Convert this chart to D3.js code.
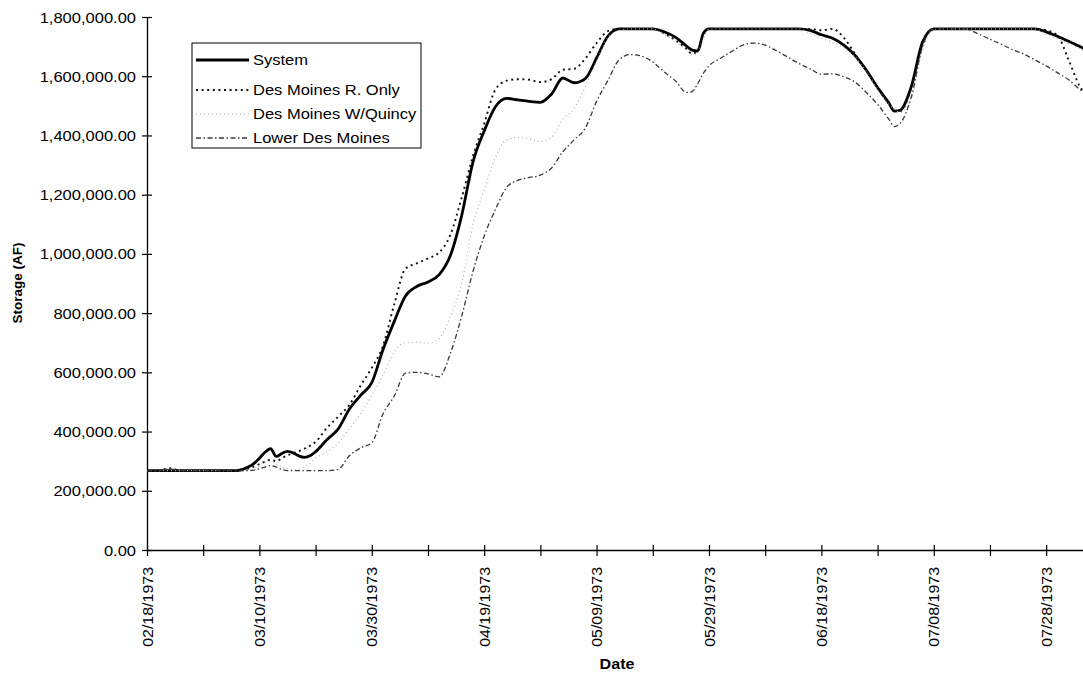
<!DOCTYPE html>
<html><head><meta charset="utf-8">
<script src="https://cdn.jsdelivr.net/npm/d3@7"></script>
<style>
body{margin:0;background:#fff;}
svg{display:block;}
text{font-family:"Liberation Sans", Arial, Helvetica, sans-serif;fill:#000;}
</style>
</head><body>
<svg id="chart" width="1083" height="681"></svg>
<script>
const dates = [
"1973-02-18","1973-02-20","1973-02-22","1973-02-24","1973-02-26","1973-02-28","1973-03-02","1973-03-04","1973-03-06",
"1973-03-07","1973-03-08","1973-03-09","1973-03-10","1973-03-11","1973-03-12","1973-03-13","1973-03-14","1973-03-15","1973-03-16","1973-03-17","1973-03-18","1973-03-19","1973-03-20",
"1973-03-22","1973-03-24","1973-03-26","1973-03-28","1973-03-30","1973-04-01","1973-04-03","1973-04-05","1973-04-07","1973-04-09","1973-04-11","1973-04-13","1973-04-15","1973-04-17","1973-04-19","1973-04-21","1973-04-23","1973-04-25","1973-04-27","1973-04-29","1973-05-01","1973-05-03","1973-05-05","1973-05-07","1973-05-09","1973-05-11","1973-05-13","1973-05-15","1973-05-17","1973-05-19","1973-05-21","1973-05-23","1973-05-25",
"1973-05-26","1973-05-27","1973-05-28",
"1973-05-29","1973-05-31","1973-06-02","1973-06-04","1973-06-06","1973-06-08","1973-06-10","1973-06-12","1973-06-14","1973-06-16","1973-06-18","1973-06-20","1973-06-22","1973-06-24","1973-06-26","1973-06-28","1973-06-30",
"1973-07-01","1973-07-02",
"1973-07-04","1973-07-06","1973-07-08","1973-07-10","1973-07-12","1973-07-14","1973-07-16","1973-07-18","1973-07-20","1973-07-22","1973-07-24","1973-07-26","1973-07-28","1973-07-30","1973-08-01","1973-08-03","1973-08-05"
];

const systemValues = [
268000,268000,268000,268000,268000,268000,268000,268000,268000,
272000,280000,292000,310000,330000,342000,316000,326000,333000,328000,318000,313000,318000,332000,
372000,408000,475000,522000,565000,677000,772000,858000,890000,905000,930000,995000,1130000,1310000,1415000,1497000,1525000,1520000,1515000,1512000,1540000,1594000,1578000,1592000,1662000,1735000,1760000,1760000,1760000,1760000,1750000,1732000,1702000,
1688000,1685000,1745000,
1760000,1760000,1760000,1760000,1760000,1760000,1760000,1760000,1760000,1755000,1740000,1728000,1705000,1670000,1620000,1562000,1510000,
1482000,1485000,
1565000,1715000,1760000,1760000,1760000,1760000,1760000,1760000,1760000,1760000,1760000,1760000,1750000,1735000,1718000,1700000,1680000
];

const riverOnlyValues = [
268000,268000,276000,268000,268000,268000,268000,268000,268000,
270000,275000,282000,290000,298000,305000,300000,310000,320000,326000,334000,342000,352000,365000,
412000,450000,490000,555000,615000,690000,830000,950000,968000,985000,1005000,1065000,1190000,1330000,1440000,1555000,1585000,1590000,1588000,1580000,1590000,1622000,1625000,1660000,1712000,1752000,1760000,1760000,1760000,1760000,1745000,1722000,1692000,
1676000,1688000,1740000,
1760000,1760000,1760000,1760000,1760000,1760000,1760000,1760000,1760000,1760000,1755000,1760000,1730000,1675000,1620000,1560000,1508000,
1482000,1482000,
1560000,1710000,1760000,1760000,1760000,1760000,1760000,1760000,1760000,1760000,1760000,1760000,1755000,1738000,1655000,1565000,1530000
];

const quincyValues = [
268000,268000,268000,268000,268000,268000,268000,268000,268000,
268000,270000,275000,285000,296000,300000,292000,280000,275000,270000,272000,282000,293000,310000,
332000,360000,410000,460000,522000,590000,670000,700000,702000,698000,715000,790000,900000,1100000,1215000,1325000,1385000,1393000,1388000,1380000,1395000,1455000,1490000,1565000,1650000,1730000,1755000,1760000,1760000,1760000,1742000,1718000,1688000,
1672000,1680000,1728000,
1758000,1760000,1760000,1760000,1760000,1760000,1760000,1760000,1760000,1745000,1728000,1714000,1695000,1665000,1615000,1555000,1505000,
1488000,1478000,
1525000,1690000,1755000,1760000,1760000,1760000,1760000,1760000,1760000,1760000,1760000,1760000,1742000,1726000,1710000,1692000,1672000
];

const lowerValues = [
268000,268000,274000,268000,268000,268000,268000,268000,268000,
268000,268000,270000,274000,280000,285000,280000,272000,268000,268000,268000,268000,268000,268000,
268000,272000,318000,345000,362000,460000,520000,597000,600000,595000,585000,665000,790000,940000,1060000,1150000,1225000,1248000,1258000,1266000,1290000,1345000,1385000,1425000,1515000,1585000,1655000,1673000,1668000,1648000,1615000,1585000,1545000,
1548000,1575000,1610000,
1635000,1660000,1683000,1705000,1712000,1705000,1686000,1665000,1643000,1625000,1607000,1608000,1598000,1580000,1545000,1505000,1455000,
1430000,1440000,
1530000,1700000,1760000,1760000,1760000,1758000,1742000,1725000,1708000,1690000,1675000,1655000,1635000,1612000,1588000,1555000,1530000
];

const seriesNames = ["System","Des Moines R. Only","Des Moines W/Quincy","Lower Des Moines"];
const yTickValues = [0,200000,400000,600000,800000,1000000,1200000,1400000,1600000,1800000];
const xTickDates = ["1973-02-18","1973-02-28","1973-03-10","1973-03-20","1973-03-30","1973-04-09","1973-04-19","1973-04-29","1973-05-09","1973-05-19","1973-05-29","1973-06-08","1973-06-18","1973-06-28","1973-07-08","1973-07-18","1973-07-28"];
const xTickLabels = ["02/18/1973","","03/10/1973","","03/30/1973","","04/19/1973","","05/09/1973","","05/29/1973","","06/18/1973","","07/08/1973","","07/28/1973"];
const xDomain = ["1973-02-18","1973-08-04"];

const parse = d3.utcParse("%Y-%m-%d");
const svg = d3.select("#chart");

const x = d3.scaleUtc().domain(xDomain.map(parse)).range([147, 1085.5]);
const y = d3.scaleLinear().domain([0, 1800000]).range([550, 17]);

const styles = [
  {stroke:"#000", width:2.8, dash:null},
  {stroke:"#111", width:1.9, dash:"2,3.6"},
  {stroke:"#a8a8a8", width:1.1, dash:"1,3"},
  {stroke:"#3a3a3a", width:1.3, dash:"5,2.5,1.5,2.5"}
];
const allValues = [systemValues, riverOnlyValues, quincyValues, lowerValues];
const series = allValues.map((vals, k) => ({
  name: seriesNames[k],
  style: styles[k],
  points: dates.map((d, i) => ({date: parse(d), v: vals[i]}))
}));

// axes
const yAxis = d3.axisLeft(y).tickValues(yTickValues).tickFormat(d3.format(",.2f")).tickSize(5).tickSizeOuter(0);
const gy = svg.append("g").attr("transform","translate(147,0)").call(yAxis);
gy.select(".domain").attr("stroke","#000").attr("stroke-width",1.3);
gy.selectAll(".tick line").attr("x1",5).attr("x2",-5).attr("stroke","#000").attr("stroke-width",1.2);
gy.selectAll(".tick text").attr("x",-9.3).attr("dy","0.36em")
  .attr("transform","scale(1.18,1)")
  .style("font-size","14px").style("font-family",'"Liberation Sans", Arial, sans-serif');

const xAxis = d3.axisBottom(x).tickValues(xTickDates.map(parse)).tickFormat((d,i)=>xTickLabels[i]).tickSize(6).tickSizeOuter(0);
const gx = svg.append("g").attr("transform","translate(0,550)").call(xAxis);
gx.select(".domain").attr("stroke","#000").attr("stroke-width",1.3);
gx.selectAll(".tick line").attr("y1",-5).attr("y2",6).attr("stroke","#000").attr("stroke-width",1.2);
gx.selectAll(".tick text").attr("x",0).attr("y",0).attr("dy","0.36em")
  .attr("text-anchor","end")
  .attr("transform","translate(0,17) rotate(-90) scale(1.14,1)")
  .style("font-size","14px").style("font-family",'"Liberation Sans", Arial, sans-serif');

// lines
const line = d3.line().x(d => x(d.date)).y(d => y(d.v)).curve(d3.curveMonotoneX);
svg.append("g").selectAll("path").data(series).join("path")
  .attr("d", d => line(d.points))
  .attr("fill","none")
  .attr("stroke", d => d.style.stroke)
  .attr("stroke-width", d => d.style.width)
  .attr("stroke-dasharray", d => d.style.dash)
  .attr("stroke-linejoin","round");

// axis titles
svg.append("text").attr("transform","translate(22,283) rotate(-90)")
  .attr("text-anchor","middle").style("font-size","13.5px").style("font-weight","bold").text("Storage (AF)");
svg.append("text").attr("transform","translate(617,669) scale(1.15,1)")
  .attr("text-anchor","middle").style("font-size","14px").style("font-weight","bold").text("Date");

// legend
const lg = svg.append("g");
lg.append("rect").attr("x",192).attr("y",43).attr("width",229).attr("height",105)
  .attr("fill","#fff").attr("stroke","#000").attr("stroke-width",1);
const legendY = [60, 90, 114, 138];
series.forEach((s, k) => {
  lg.append("line").attr("x1",196).attr("x2",249).attr("y1",legendY[k]).attr("y2",legendY[k])
    .attr("stroke", s.style.stroke).attr("stroke-width", s.style.width)
    .attr("stroke-dasharray", s.style.dash);
  lg.append("text").attr("transform",`translate(253,${legendY[k]+5}) scale(1.18,1)`)
    .style("font-size","14px").text(s.name);
});
</script>
</body></html>
